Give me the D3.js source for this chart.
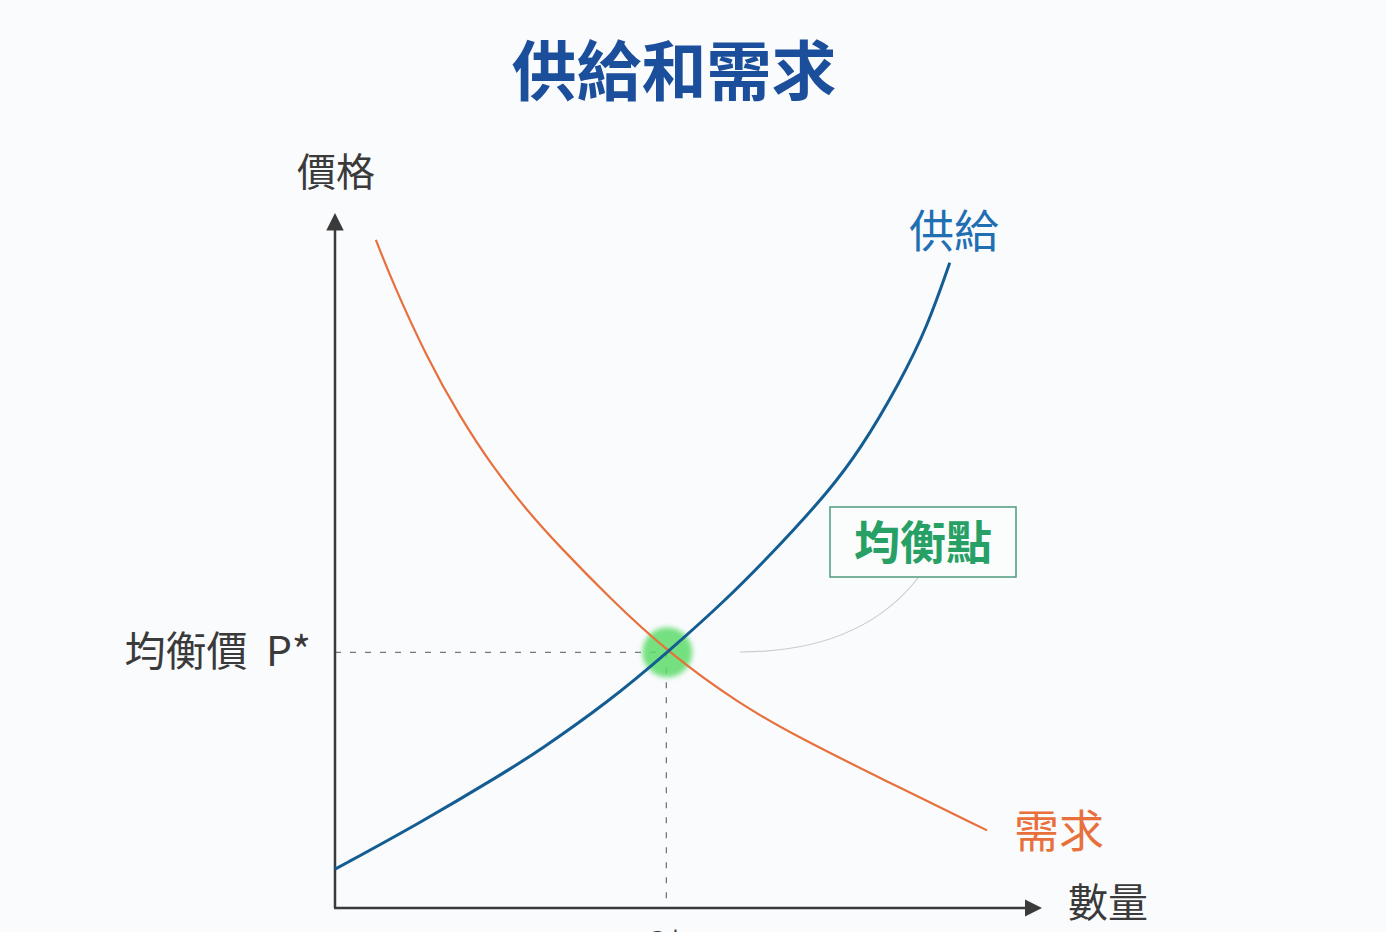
<!DOCTYPE html>
<html>
<head>
<meta charset="utf-8">
<script src="https://cdn.jsdelivr.net/npm/d3@7"></script>
<style>
  body { margin: 0; background: #fafbfd; }
  svg { display: block; }
</style>
</head>
<body>
<svg id="chart" width="1386" height="932"></svg>
<script>
// quantity / price readings (0-100 units on each axis)
const supplyQ = [0, 12.1, 24.0, 29.1, 38.6, 47.2, 55.6, 61.3, 65.0, 69.8, 74.5, 80.1, 84.0, 87.2];
const supplyP = [5.6, 12.3, 19.5, 22.8, 29.6, 36.9, 44.6, 50.5, 54.5, 59.9, 66.1, 75.8, 83.8, 93.1];
const demandQ = [5.8, 8.2, 13.0, 17.7, 22.4, 27.2, 31.9, 39.0, 47.2, 57.4, 65.8, 77.8, 92.5];
const demandP = [96.4, 90.2, 79.5, 70.9, 63.6, 57.4, 52.1, 44.7, 36.9, 29.4, 24.6, 18.5, 11.2];
const equilibrium = { q: 47.0, p: 36.9 };

const title = "供給和需求";
const yLabel = "價格";
const xLabel = "數量";
const priceLabel = "均衡價  P*";
const qtyLabel = "Q*";
const pointLabel = "均衡點";
const supplyLabel = "供給";
const demandLabel = "需求";

const svg = d3.select("#chart");
const font = "'Noto Sans CJK TC', 'Noto Sans', sans-serif";

const x = d3.scaleLinear().domain([0, 100]).range([335, 1040]);
const y = d3.scaleLinear().domain([0, 100]).range([908, 215]);

// glow filter + arrow head
const defs = svg.append("defs");
const blur = defs.append("filter").attr("id", "glow")
  .attr("x", "-50%").attr("y", "-50%").attr("width", "200%").attr("height", "200%");
blur.append("feGaussianBlur").attr("stdDeviation", 2.5);

defs.append("marker")
  .attr("id", "arrow")
  .attr("viewBox", "0 0 10 10")
  .attr("refX", 2).attr("refY", 5)
  .attr("markerWidth", 7).attr("markerHeight", 7)
  .attr("markerUnits", "strokeWidth")
  .attr("orient", "auto")
  .append("path")
  .attr("d", "M0,0 L10,5 L0,10 Z")
  .attr("fill", "#3a3a3a");

// title
svg.append("text")
  .attr("x", 674).attr("y", 95)
  .attr("text-anchor", "middle")
  .attr("font-family", font)
  .attr("font-weight", "bold")
  .attr("font-size", 65)
  .attr("fill", "#1b4f9c")
  .text(title);

// dashed guides to equilibrium
svg.append("line")
  .attr("x1", x(0)).attr("y1", y(equilibrium.p))
  .attr("x2", x(equilibrium.q)).attr("y2", y(equilibrium.p))
  .attr("stroke", "#777").attr("stroke-width", 1.3)
  .attr("stroke-dasharray", "6,9");
svg.append("line")
  .attr("x1", x(equilibrium.q)).attr("y1", y(equilibrium.p))
  .attr("x2", x(equilibrium.q)).attr("y2", y(0))
  .attr("stroke", "#777").attr("stroke-width", 1.3)
  .attr("stroke-dasharray", "6,9");

// axes
svg.append("line")
  .attr("x1", x(0)).attr("y1", y(0))
  .attr("x2", x(0)).attr("y2", y(100) + 12)
  .attr("stroke", "#3a3a3a").attr("stroke-width", 2.5)
  .attr("marker-end", "url(#arrow)");
svg.append("line")
  .attr("x1", x(0) - 1).attr("y1", y(0))
  .attr("x2", x(100) - 12).attr("y2", y(0))
  .attr("stroke", "#3a3a3a").attr("stroke-width", 2.5)
  .attr("marker-end", "url(#arrow)");

// leader line from box to equilibrium
svg.append("path")
  .attr("d", "M918,578 Q860,652 740,652")
  .attr("fill", "none")
  .attr("stroke", "#c8cccc")
  .attr("stroke-width", 1.2);

// equilibrium glow
svg.append("circle")
  .attr("cx", x(equilibrium.q) + 1).attr("cy", y(equilibrium.p))
  .attr("r", 25)
  .attr("fill", "#5ddc6a")
  .attr("opacity", 0.85)
  .attr("filter", "url(#glow)");

const line = d3.line()
  .x(d => x(d[0]))
  .y(d => y(d[1]))
  .curve(d3.curveBasis);

svg.append("path")
  .datum(demandQ.map((q, i) => [q, demandP[i]]))
  .attr("d", line)
  .attr("fill", "none")
  .attr("stroke", "#e8703c")
  .attr("stroke-width", 2.2);

svg.append("path")
  .datum(supplyQ.map((q, i) => [q, supplyP[i]]))
  .attr("d", line)
  .attr("fill", "none")
  .attr("stroke", "#135d92")
  .attr("stroke-width", 3);

// label box
svg.append("rect")
  .attr("x", 830).attr("y", 507)
  .attr("width", 186).attr("height", 70)
  .attr("fill", "#fbfdfc")
  .attr("stroke", "#4f9a7c")
  .attr("stroke-width", 1.5);
svg.append("text")
  .attr("x", 923).attr("y", 559)
  .attr("text-anchor", "middle")
  .attr("font-family", font)
  .attr("font-weight", "bold")
  .attr("font-size", 46)
  .attr("fill", "#27a065")
  .text(pointLabel);

// text labels
svg.append("text")
  .attr("x", 336).attr("y", 186)
  .attr("text-anchor", "middle")
  .attr("font-family", font)
  .attr("font-size", 39)
  .attr("fill", "#3a3a3a")
  .text(yLabel);

svg.append("text")
  .attr("x", 311).attr("y", 666)
  .attr("text-anchor", "end")
  .attr("font-family", font)
  .attr("font-size", 41)
  .attr("fill", "#3a3a3a")
  .style("white-space", "pre")
  .text(priceLabel);

svg.append("text")
  .attr("x", 1068).attr("y", 917)
  .attr("font-family", font)
  .attr("font-size", 40)
  .attr("fill", "#3a3a3a")
  .text(xLabel);

svg.append("text")
  .attr("x", x(equilibrium.q) - 2).attr("y", 955)
  .attr("text-anchor", "middle")
  .attr("font-family", font)
  .attr("font-size", 32)
  .attr("fill", "#3a3a3a")
  .text(qtyLabel);

svg.append("text")
  .attr("x", 909).attr("y", 248)
  .attr("font-family", font)
  .attr("font-size", 45)
  .attr("fill", "#1f6fb2")
  .text(supplyLabel);

svg.append("text")
  .attr("x", 1014).attr("y", 848)
  .attr("font-family", font)
  .attr("font-size", 45)
  .attr("fill", "#e8703c")
  .text(demandLabel);
</script>
</body>
</html>
